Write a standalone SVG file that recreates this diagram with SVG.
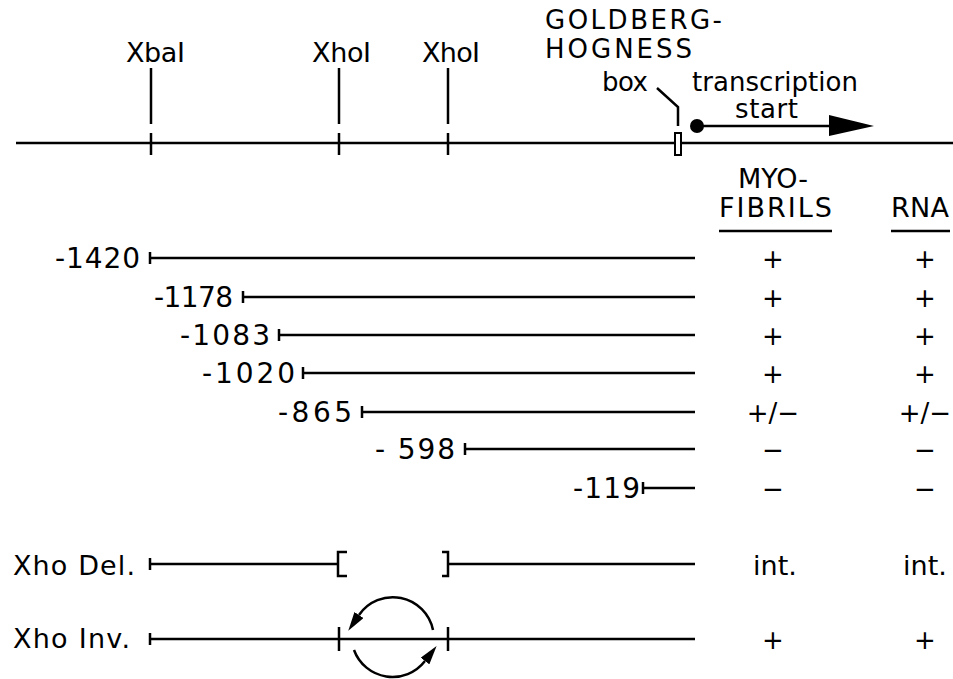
<svg xmlns="http://www.w3.org/2000/svg" width="953" height="679" viewBox="0 0 953 679">
<style>
text{font-family:"DejaVu Sans","Liberation Sans",sans-serif;font-size:27px;fill:#000}
.s{font-size:26px}
.n{font-size:28px}
.m{font-size:26px;text-anchor:middle}
.c{text-anchor:middle}
.ln{stroke:#000;stroke-width:2.5;fill:none;stroke-linecap:butt}
</style>
<defs>
<marker id="ah" markerUnits="userSpaceOnUse" markerWidth="20" markerHeight="12" refX="0" refY="5.5" orient="auto">
<path d="M0,0 L19,5.5 L0,11 z" fill="#000"/>
</marker>
</defs>
<rect width="953" height="679" fill="#fff"/>

<g id="map">
<line class="ln" x1="16" y1="143" x2="953" y2="143"/>
<g id="xbai"><text x="126" y="62" textLength="59">XbaI</text>
<line class="ln" x1="151" y1="68" x2="151" y2="124"/><line class="ln" x1="151" y1="133" x2="151" y2="155"/></g>
<g id="xhoi1"><text x="312" y="62" textLength="59">XhoI</text>
<line class="ln" x1="339" y1="68" x2="339" y2="124"/><line class="ln" x1="339" y1="133" x2="339" y2="155"/></g>
<g id="xhoi2"><text x="422" y="62" textLength="58">XhoI</text>
<line class="ln" x1="448" y1="68" x2="448" y2="124"/><line class="ln" x1="448" y1="133" x2="448" y2="155"/></g>
<g id="gbox">
<text class="s" x="545" y="29" textLength="177">GOLDBERG-</text>
<text class="s" x="545" y="58" textLength="147">HOGNESS</text>
<text class="s" x="602" y="91" textLength="46">box</text>
<polyline class="ln" points="657,88 678,107 678,126"/>
<rect x="675" y="133" width="6" height="22" fill="#fff" stroke="#000" stroke-width="2"/>
</g>
<g id="tstart">
<text class="s" x="692" y="91" textLength="166">transcription</text>
<text class="s" x="735" y="118" textLength="63">start</text>
<circle cx="697" cy="126" r="7" fill="#000"/>
<line class="ln" x1="697" y1="126" x2="832" y2="126"/>
<polygon points="829,115 874,126 829,136" fill="#000"/>
</g>
</g>

<g id="headers">
<text class="c" x="773" y="188">MYO-</text>
<text x="719" y="217" textLength="113">FIBRILS</text>
<line class="ln" x1="719" y1="231" x2="832" y2="231"/>
<text x="891" y="217" textLength="58">RNA</text>
<line class="ln" x1="891" y1="231" x2="950" y2="231"/>
</g>

<g id="connectors">
<g id="r1420"><text class="n" x="55" y="268" textLength="85">-1420</text>
<line class="ln" x1="150" y1="258" x2="695" y2="258"/><line class="ln" x1="150" y1="252" x2="150" y2="264"/></g>
<g id="r1178"><text class="n" x="154" y="307" textLength="79">-1178</text>
<line class="ln" x1="243" y1="297" x2="695" y2="297"/><line class="ln" x1="243" y1="291" x2="243" y2="303"/></g>
<g id="r1083"><text class="n" x="180" y="345" textLength="90">-1083</text>
<line class="ln" x1="279" y1="335" x2="695" y2="335"/><line class="ln" x1="279" y1="329" x2="279" y2="341"/></g>
<g id="r1020"><text class="n" x="202" y="383" textLength="93">-1020</text>
<line class="ln" x1="303" y1="373" x2="695" y2="373"/><line class="ln" x1="303" y1="367" x2="303" y2="379"/></g>
<g id="r865"><text class="n" x="278" y="422" textLength="74">-865</text>
<line class="ln" x1="362" y1="412" x2="695" y2="412"/><line class="ln" x1="362" y1="406" x2="362" y2="418"/></g>
<g id="r598"><text class="n" x="375" y="459" textLength="80">- 598</text>
<line class="ln" x1="465" y1="449" x2="695" y2="449"/><line class="ln" x1="465" y1="443" x2="465" y2="455"/></g>
<g id="r119"><text class="n" x="573" y="498" textLength="67">-119</text>
<line class="ln" x1="643" y1="488" x2="695" y2="488"/><line class="ln" x1="643" y1="482" x2="643" y2="494"/></g>

<g id="xhodel"><text x="13" y="575" textLength="122">Xho  Del.</text>
<line class="ln" x1="150" y1="558" x2="150" y2="570"/>
<line class="ln" x1="150" y1="564" x2="338" y2="564"/>
<polyline class="ln" points="347,552 338,552 338,576 347,576"/>
<polyline class="ln" points="442,552 448,552 448,576 442,576"/>
<line class="ln" x1="448" y1="564" x2="695" y2="564"/>
</g>
<g id="xhoinv"><text x="13" y="648" textLength="117">Xho Inv.</text>
<line class="ln" x1="150" y1="633" x2="150" y2="645"/>
<line class="ln" x1="150" y1="639" x2="695" y2="639"/>
<line class="ln" x1="339" y1="627" x2="339" y2="651"/>
<line class="ln" x1="448" y1="627" x2="448" y2="651"/>
<path class="ln" d="M433,630 A41,41 0 0 0 359,615" marker-end="url(#ah)"/>
<path class="ln" d="M354,650 A41,41 0 0 0 425,661" marker-end="url(#ah)"/>
</g>
</g>

<g id="results">
<text class="m" x="773" y="268">+</text><text class="m" x="925" y="268">+</text>
<text class="m" x="773" y="307">+</text><text class="m" x="925" y="307">+</text>
<text class="m" x="773" y="345">+</text><text class="m" x="925" y="345">+</text>
<text class="m" x="773" y="383">+</text><text class="m" x="925" y="383">+</text>
<text class="m" x="773" y="422">+/−</text><text class="m" x="925" y="422">+/−</text>
<text class="m" x="773" y="459">−</text><text class="m" x="925" y="459">−</text>
<text class="m" x="773" y="498">−</text><text class="m" x="925" y="498">−</text>
<text class="c" x="775" y="575">int.</text><text class="c" x="925" y="575">int.</text>
<text class="m" x="773" y="649">+</text><text class="m" x="925" y="649">+</text>
</g>
</svg>
